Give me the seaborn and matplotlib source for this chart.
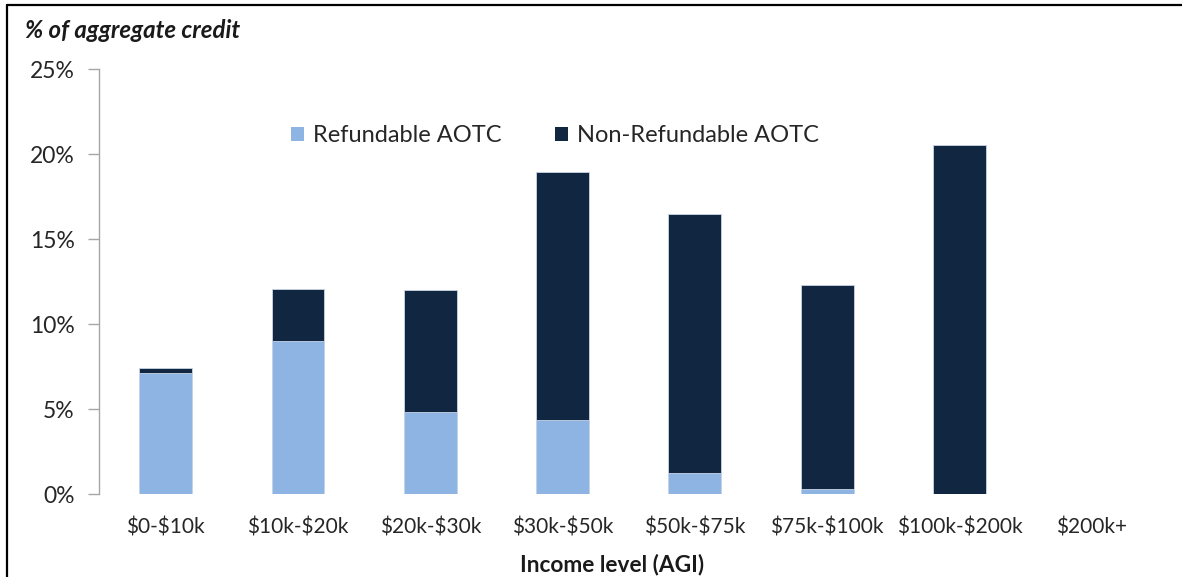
import matplotlib
matplotlib.use("Agg")
import matplotlib.pyplot as plt
import seaborn as sns
import pandas as pd
from matplotlib.patches import Patch
from matplotlib.lines import Line2D
from matplotlib.ticker import FuncFormatter

categories = ["$0-$10k", "$10k-$20k", "$20k-$30k", "$30k-$50k", "$50k-$75k",
              "$75k-$100k", "$100k-$200k", "$200k+"]
refundable = [7.12, 9.0, 4.82, 4.35, 1.24, 0.29, 0.0, 0.0]
non_refundable = [0.33, 3.06, 7.18, 14.59, 15.23, 12.0, 20.53, 0.0]
series_names = ["Refundable AOTC", "Non-Refundable AOTC"]
y_ticks = [0, 5, 10, 15, 20, 25]

LIGHT = "#8eb4e3"
DARK = "#112641"

sns.set_style("white")
plt.rcParams["font.family"] = ["Lato", "DejaVu Sans"]
plt.rcParams["text.parse_math"] = False

df = pd.DataFrame({
    "cat": categories,
    "ref": refundable,
    "total": [r + n for r, n in zip(refundable, non_refundable)],
})

fig = plt.figure(figsize=(11.82, 5.77), dpi=100)
ax_l, ax_r, ax_b, ax_t = 99.5, 1158, 494.3, 69
ax = fig.add_axes([ax_l / 1182, 1 - ax_b / 577, (ax_r - ax_l) / 1182, (ax_b - ax_t) / 577])

sns.barplot(data=df, x="cat", y="total", color=DARK, saturation=1, width=0.4,
            edgecolor="#c9d6e6", linewidth=0.6, ax=ax)
sns.barplot(data=df, x="cat", y="ref", color=LIGHT, saturation=1, width=0.4,
            edgecolor="#c9d6e6", linewidth=0.6, ax=ax)

ax.set_ylim(0, 25)
ax.set_xlim(-0.5, len(categories) - 0.5)
ax.set_yticks(y_ticks)
ax.yaxis.set_major_formatter(FuncFormatter(lambda v, p: f"{int(v)}%"))
ax.tick_params(axis="y", left=True, length=8, width=1, color="#a6a6a6",
               labelsize=16.5, labelcolor="#262626", pad=10)
ax.tick_params(axis="x", bottom=False, labelsize=15, labelcolor="#262626", pad=13)

for s in ["top", "right", "bottom"]:
    ax.spines[s].set_visible(False)
ax.spines["left"].set_color("#a6a6a6")
ax.spines["left"].set_linewidth(1)

ax.set_xlabel("Income level (AGI)", fontsize=16.3, fontweight="bold", color="#1a1a1a")
ax.xaxis.set_label_coords((612 - ax_l) / (ax_r - ax_l), (ax_b - 554) / (ax_b - ax_t))
ax.set_ylabel("")

fig.text(25 / 1182, 1 - 30 / 577, "% of aggregate credit", fontsize=17.3, fontweight="bold",
         fontstyle="italic", va="center", ha="left", color="#1a1a1a")

handles = [Patch(facecolor=LIGHT, edgecolor="none"), Patch(facecolor=DARK, edgecolor="none")]
leg = fig.legend(handles, series_names, loc="center", bbox_to_anchor=(555 / 1182, 1 - 136 / 577),
                 ncol=2, frameon=False, fontsize=17, handlelength=0.55, handleheight=0.55,
                 handletextpad=0.35, columnspacing=2.3)
for t in leg.get_texts():
    t.set_color("#262626")

fig.add_artist(Line2D([7 / 1182, 7 / 1182], [0, 1 - 5 / 577], transform=fig.transFigure,
                      color="black", linewidth=1.6))
fig.add_artist(Line2D([7 / 1182, 1], [1 - 5 / 577, 1 - 5 / 577], transform=fig.transFigure,
                      color="black", linewidth=1.6))

fig.savefig("out.png", dpi=100)
